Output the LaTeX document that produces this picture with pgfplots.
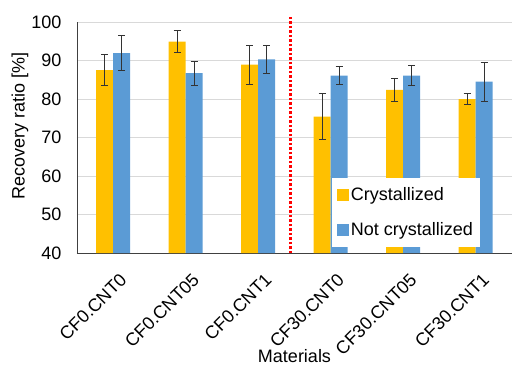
\documentclass[border=0pt]{standalone}
\usepackage{fontspec}
\setmainfont{Liberation Sans}
\usepackage{pgfplots}
\pgfplotsset{compat=1.18}
\definecolor{cyel}{HTML}{FFC000}
\definecolor{cblu}{HTML}{5B9BD5}
\definecolor{cgrid}{HTML}{D9D9D9}
\begin{document}
\begin{tikzpicture}
\path[use as bounding box] (-77pt,-117pt) rectangle (435pt,253pt);
\begin{axis}[
  at={(0pt,0pt)}, anchor=south west,
  scale only axis, width=435pt, height=231pt,
  xmin=-0.5, xmax=5.5, ymin=40, ymax=100,
  ytick={40,50,...,100},
  xtick={0,1,2,3,4,5},
  xticklabels={CF0.CNT0,CF0.CNT05,CF0.CNT1,CF30.CNT0,CF30.CNT05,CF30.CNT1},
  major tick length=0pt,
  ymajorgrids, grid style={cgrid, line width=0.9pt},
  axis x line*=bottom, axis y line*=left,
  axis line style={-, draw=black!75, line width=0.9pt},
  /pgf/number format/assume math mode=true,
  tick label style={font=\fontsize{18}{21}\selectfont},
  yticklabel style={xshift=-12pt},
  xticklabel style={rotate=45, anchor=north east, xshift=-6pt, yshift=-14pt},
  label style={font=\fontsize{18}{21}\selectfont},
  xlabel={Materials},
  xlabel style={at={(axis description cs:0.5,-0.446)}, anchor=center},
  ylabel={Recovery ratio [\%]},
  ylabel style={at={(axis description cs:-0.131,0.55)}, anchor=center},
  ybar=0pt, bar width=17pt,
  clip=false,
  legend style={at={(axis description cs:0.5855,0.026)}, anchor=south west,
    draw=none, fill=white, font=\fontsize{18}{21}\selectfont,
    row sep=16pt, inner xsep=5pt, inner ysep=8pt},
  legend cell align=left,
  legend image code/.code={\fill[#1] (0pt,-6pt) rectangle (12pt,6pt);},
]
\addplot[fill=cyel, draw=none,
  error bars/.cd, y dir=both, y explicit,
  error bar style={black!80, line width=0.8pt},
  error mark options={rotate=90, mark size=3.5pt, black!80, line width=0.8pt}]
  coordinates {
  (0,87.5) +- (0,4.0)
  (1,94.9) +- (0,2.9)
  (2,88.9) +- (0,5.0)
  (3,75.4) +- (0,6.0)
  (4,82.4) +- (0,3.0)
  (5,80.0) +- (0,1.5)
  };
\addlegendentry{Crystallized}
\addplot[fill=cblu, draw=none,
  error bars/.cd, y dir=both, y explicit,
  error bar style={black!80, line width=0.8pt},
  error mark options={rotate=90, mark size=3.5pt, black!80, line width=0.8pt}]
  coordinates {
  (0,91.9) +- (0,4.5)
  (1,86.7) +- (0,3.1)
  (2,90.3) +- (0,3.7)
  (3,86.1) +- (0,2.4)
  (4,86.1) +- (0,2.5)
  (5,84.5) +- (0,5.0)
  };
\addlegendentry{Not crystallized}
\draw[red, line width=2.5pt, dash pattern=on 2.5pt off 2pt] (axis cs:2.445,40) -- (axis cs:2.445,101.6);
\end{axis}
\end{tikzpicture}
\end{document}
